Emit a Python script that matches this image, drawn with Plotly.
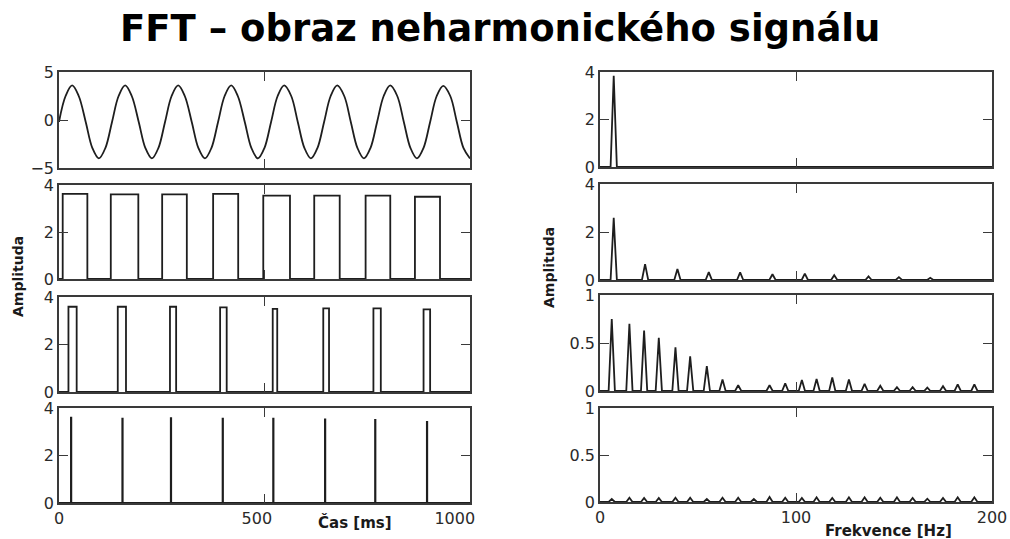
import plotly.graph_objects as go

# ---------------- time-domain signals (t in ms) ----------------
# sine, sampled every 1/8 of a period
sine_t = [0, 16, 32, 48, 65, 81, 97, 113, 129, 145, 161, 177, 194, 210, 226, 242,
          258, 274, 290, 306, 323, 339, 355, 371, 387, 403, 419, 435, 452, 468, 484, 500,
          516, 532, 548, 565, 581, 597, 613, 629, 645, 661, 677, 694, 710, 726, 742, 758,
          774, 790, 806, 823, 839, 855, 871, 887, 903, 919, 935, 952, 968, 984, 1000]
sine_v = [-0.2, 2.5, 3.6, 2.5, -0.2, -2.9, -4.0, -2.9,
          -0.2, 2.5, 3.6, 2.5, -0.2, -2.9, -4.0, -2.9,
          -0.2, 2.5, 3.6, 2.5, -0.2, -2.9, -4.0, -2.9,
          -0.2, 2.5, 3.6, 2.5, -0.2, -2.9, -4.0, -2.9,
          -0.2, 2.5, 3.6, 2.5, -0.2, -2.9, -4.0, -2.9,
          -0.2, 2.5, 3.6, 2.5, -0.2, -2.9, -4.0, -2.9,
          -0.2, 2.5, 3.6, 2.5, -0.2, -2.9, -4.0, -2.9,
          -0.2, 2.5, 3.55, 2.5, -0.2, -2.9, -4.0]

# wide rectangular pulses
wide_start = [9, 126, 251, 375, 497, 621, 746, 866]
wide_end = [69, 193, 311, 436, 562, 683, 806, 927]
wide_height = [3.62, 3.60, 3.60, 3.62, 3.55, 3.55, 3.55, 3.50]

# narrow rectangular pulses
narrow_start = [23, 143, 270, 392, 520, 643, 765, 887]
narrow_end = [43, 163, 285, 408, 531, 657, 783, 903]
narrow_height = [3.59, 3.59, 3.59, 3.56, 3.50, 3.52, 3.52, 3.48]

# impulses
spike_t = [29, 154, 272, 398, 521, 647, 769, 895]
spike_height = [3.59, 3.55, 3.57, 3.55, 3.55, 3.52, 3.50, 3.42]

# ---------------- spectra (f in Hz) ----------------
sine_f = [7]
sine_a = [3.84]

wide_f = [7, 23, 39.5, 55.5, 71.5, 88, 104.5, 119.5, 137, 152.5, 168.5]
wide_a = [2.59, 0.66, 0.46, 0.33, 0.32, 0.24, 0.27, 0.20, 0.15, 0.12, 0.09]

narrow_f = [6, 15, 22.5, 30, 38.5, 46, 54.5, 62.5, 70.5, 86.5, 94.5, 103, 110.5,
            118.5, 127, 135, 143, 151.5, 159.5, 167, 175, 182.5, 191]
narrow_a = [0.75, 0.70, 0.63, 0.555, 0.455, 0.36, 0.26, 0.12, 0.06, 0.06, 0.08, 0.115, 0.125,
            0.14, 0.12, 0.075, 0.055, 0.04, 0.04, 0.035, 0.05, 0.07, 0.07]

spike_f = [6, 15, 22.5, 30, 38.5, 46, 54.5, 62.5, 70.5, 78.5, 86.5, 94.5, 103, 110.5,
           118.5, 127, 135, 143, 151.5, 159.5, 167, 175, 182.5, 191]
spike_a = [0.032, 0.046, 0.042, 0.042, 0.046, 0.046, 0.032, 0.046, 0.046, 0.032, 0.053, 0.046,
           0.043, 0.05, 0.043, 0.05, 0.05, 0.045, 0.05, 0.043, 0.035, 0.043, 0.05, 0.05]

# axis tick labels
time_ticks = [0, 500, 1000]
time_tick_text = ["0", "500", "1000"]
freq_ticks = [0, 100, 200]
freq_tick_text = ["0", "100", "200"]

SPIKE_WIDTH_MS = 1
PEAK_HALF_WIDTH_HZ = 1.6
T_END = 1000
F_END = 200


def pulse_train(starts, ends, heights):
    xs, ys = [0], [0]
    for s, e, h in zip(starts, ends, heights):
        xs += [s, s, e, e]
        ys += [0, h, h, 0]
    xs.append(T_END)
    ys.append(0)
    return xs, ys


def spectrum(freqs, amps):
    xs, ys = [0], [0]
    for f, a in zip(freqs, amps):
        xs += [f - PEAK_HALF_WIDTH_HZ, f, f + PEAK_HALF_WIDTH_HZ]
        ys += [0, a, 0]
    xs.append(F_END)
    ys.append(0)
    return xs, ys


W, H = 1010, 539
LINE = dict(color="#1e1e1e", width=1.8)
AX_COLOR = "#3a3a3a"
FONT = "DejaVu Sans, Verdana, sans-serif"
TICK_FONT = dict(family=FONT, size=16, color="#2a2a2a")
NBSP = "\u00a0"

# panel boxes in pixels: (left, right, top, bottom)
left_boxes = [(59, 470, 72, 168), (59, 470, 185, 279), (59, 470, 297, 392), (59, 470, 408, 503)]
right_boxes = [(600, 992, 72, 167), (600, 992, 184, 280), (600, 992, 295, 391), (600, 992, 408, 502)]

fig = go.Figure()

time_series = [
    (sine_t, sine_v, "spline"),
    (*pulse_train(wide_start, wide_end, wide_height), "linear"),
    (*pulse_train(narrow_start, narrow_end, narrow_height), "linear"),
    (*pulse_train(spike_t, [t + SPIKE_WIDTH_MS for t in spike_t], spike_height), "linear"),
]
freq_series = [
    spectrum(sine_f, sine_a),
    spectrum(wide_f, wide_a),
    spectrum(narrow_f, narrow_a),
    spectrum(spike_f, spike_a),
]

y_left = [([-5, 5], [-5, 0, 5], ["\u22125", "0", "5"]),
          ([0, 4], [0, 2, 4], ["0", "2", "4"]),
          ([0, 4], [0, 2, 4], ["0", "2", "4"]),
          ([0, 4], [0, 2, 4], ["0", "2", "4"])]
y_right = [([0, 4], [0, 2, 4], ["0", "2", "4"]),
           ([0, 4], [0, 2, 4], ["0", "2", "4"]),
           ([0, 1], [0, 0.5, 1], ["0", "0.5", "1"]),
           ([0, 1], [0, 0.5, 1], ["0", "0.5", "1"])]

# time labels sit slightly left of their ticks
time_tick_labels = [time_tick_text[0],
                    time_tick_text[1] + NBSP * 3,
                    time_tick_text[2] + NBSP * 6]

layout = {}


def axis_common():
    return dict(showline=True, linecolor=AX_COLOR, linewidth=1.6, mirror="ticks",
                ticks="inside", ticklen=9, tickwidth=1.4, tickcolor=AX_COLOR,
                showgrid=False, zeroline=False, tickfont=TICK_FONT, fixedrange=True,
                automargin=False)


for i in range(8):
    n = i + 1
    side_left = i < 4
    row = i % 4
    box = left_boxes[row] if side_left else right_boxes[row]
    l, r, t, b = box
    xa = axis_common()
    xa.update(domain=[l / W, r / W], anchor=f"y{n}")
    if side_left:
        xa.update(range=[0, T_END], tickvals=time_ticks, ticktext=time_tick_labels)
    else:
        xa.update(range=[0, F_END], tickvals=freq_ticks, ticktext=freq_tick_text)
    xa["showticklabels"] = row == 3
    ya = axis_common()
    yr, yv, yt = (y_left if side_left else y_right)[row]
    ya.update(domain=[1 - b / H, 1 - t / H], anchor=f"x{n}", range=yr, tickvals=yv, ticktext=yt)
    layout[f"xaxis{n}"] = xa
    layout[f"yaxis{n}"] = ya

    if side_left:
        xs, ys, shape = time_series[row]
    else:
        xs, ys = freq_series[row]
        shape = "linear"
    fig.add_trace(go.Scatter(x=xs, y=ys, mode="lines",
                             line=dict(shape=shape, smoothing=1.0, **LINE),
                             xaxis=f"x{n}", yaxis=f"y{n}", hoverinfo="skip", showlegend=False))

LABEL_FONT = dict(family=FONT, size=15, color="#1a1a1a")
annotations = [
    dict(text="<b>FFT \u2013 obraz neharmonického signálu</b>", x=500 / W, y=1 - 28 / H,
         font=dict(family=FONT, size=37, color="#000000")),
    dict(text="<b>Čas [ms]</b>", x=355 / W, y=1 - 522 / H, font=LABEL_FONT),
    dict(text="<b>Frekvence [Hz]</b>", x=888 / W, y=1 - 531 / H, font=LABEL_FONT),
    dict(text="<b>Amplituda</b>", x=18 / W, y=1 - 277 / H, textangle=-90,
         font=dict(family=FONT, size=14, color="#1a1a1a")),
    dict(text="<b>Amplituda</b>", x=549 / W, y=1 - 268 / H, textangle=-90,
         font=dict(family=FONT, size=14, color="#1a1a1a")),
]
for a in annotations:
    a.update(xref="paper", yref="paper", showarrow=False, xanchor="center", yanchor="middle")

fig.update_layout(width=W, height=H, margin=dict(l=0, r=0, t=0, b=0, autoexpand=False),
                  paper_bgcolor="white", plot_bgcolor="white",
                  annotations=annotations, **layout)

fig.write_html("out.html", config={"displayModeBar": False})
